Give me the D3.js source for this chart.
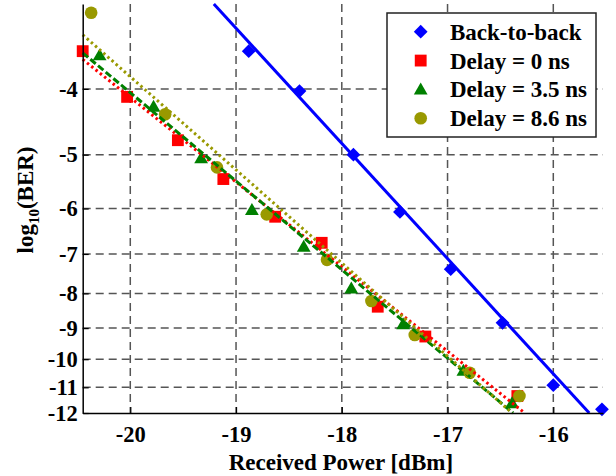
<!DOCTYPE html>
<html>
<head>
<meta charset="utf-8">
<script src="https://cdn.jsdelivr.net/npm/d3@7"></script>
<style>
  body { margin: 0; background: #fff; }
  text { font-family: "Liberation Serif", "Times New Roman", serif; font-weight: bold; }
</style>
</head>
<body>
<svg id="ber" width="616" height="476"></svg>
<script>
// BER curves, y axis is log10(BER) drawn on a log(-log) scale

// measured points: received power [dBm] and log10(BER)
let b2bPower = [-18.88, -18.40, -17.89, -17.45, -16.97, -16.48, -16.00, -15.54];
let b2bBer   = [-3.52, -4.03, -5.00, -6.07, -7.37, -8.84, -10.92, -11.85];

let d0Power = [-20.45, -20.03, -19.55, -19.12, -18.63, -18.19, -17.66, -17.21, -16.34];
let d0Ber   = [-3.52, -4.11, -4.76, -5.43, -6.17, -6.74, -8.37, -9.26, -11.33];

let d35Power = [-20.29, -19.78, -19.33, -18.85, -18.36, -17.91, -17.42, -16.85, -16.39];
let d35Ber   = [-3.57, -4.25, -5.06, -6.03, -6.83, -7.87, -8.88, -10.40, -11.61];

let d86Power = [-20.37, -19.67, -19.18, -18.71, -18.14, -17.72, -17.31, -16.79, -16.32];
let d86Ber   = [-3.09, -4.36, -5.22, -6.12, -7.14, -8.21, -9.21, -10.47, -11.33];

// fitted lines (end points in data units)
let b2bFitPower = [-19.21, -15.66];
let b2bFitBer   = [-3.0, -12];
let d0FitPower  = [-20.45, -16.27];
let d0FitBer    = [-3.62, -12];
let d35FitPower = [-20.45, -16.38];
let d35FitBer   = [-3.54, -12];
let d86FitPower = [-20.45, -16.39];
let d86FitBer   = [-3.33, -12];

let names = ["Back-to-back", "Delay = 0 ns", "Delay = 3.5 ns", "Delay = 8.6 ns"];
let xTicks = [-20, -19, -18, -17, -16];
let yTicks = [-4, -5, -6, -7, -8, -9, -10, -11, -12];

let series = [
    {name: names[0], px: b2bPower, py: b2bBer, fx: b2bFitPower, fy: b2bFitBer,
     color: "#0000ff", symbol: "diamond", dash: null},
    {name: names[1], px: d0Power, py: d0Ber, fx: d0FitPower, fy: d0FitBer,
     color: "#ff0000", symbol: "square", dash: "2.5,3"},
    {name: names[2], px: d35Power, py: d35Ber, fx: d35FitPower, fy: d35FitBer,
     color: "#008000", symbol: "triangle", dash: "7,3"},
    {name: names[3], px: d86Power, py: d86Ber, fx: d86FitPower, fy: d86FitBer,
     color: "#999900", symbol: "circle", dash: "2.5,3"}
];

let svg = d3.select("#ber");
let plotLeft = 82.7, plotRight = 603, plotTop = 4, plotBottom = 413;

let x = d3.scaleLinear().domain([-20.45, -15.53]).range([plotLeft, plotRight]);
// log scale on -log10(BER)
let yLog = d3.scaleLog().domain([3, 12]).range([plotTop, plotBottom]);
let y = (t) => yLog(-t);

// dashed grid
let grid = svg.append("g");
grid.selectAll("line.h")
    .data(yTicks.filter(d => d !== -12))
    .enter().append("line")
    .attr("class", "h")
    .attr("x1", plotLeft).attr("x2", plotRight)
    .attr("y1", d => y(d)).attr("y2", d => y(d));
grid.selectAll("line.v")
    .data(xTicks)
    .enter().append("line")
    .attr("class", "v")
    .attr("x1", d => x(d)).attr("x2", d => x(d))
    .attr("y1", plotTop).attr("y2", plotBottom);
grid.selectAll("line")
    .attr("stroke", "#555")
    .attr("stroke-width", 1.5)
    .attr("stroke-dasharray", "8,5");

// markers
function symbolPath(kind) {
    if (kind === "diamond") return d3.symbol(d3.symbolSquare, 95)();
    if (kind === "square") return d3.symbol(d3.symbolSquare, 140)();
    if (kind === "triangle") return d3.symbol(d3.symbolTriangle, 82)();
    return d3.symbol(d3.symbolCircle, 125)();
}
function symbolTransform(kind, cx, cy) {
    if (kind === "diamond") return `translate(${cx}, ${cy}) rotate(45)`;
    if (kind === "triangle") return `translate(${cx}, ${cy + 1})`;
    return `translate(${cx}, ${cy})`;
}

series.forEach((s) => {
    svg.append("g")
        .selectAll("path")
        .data(s.px.map((p, i) => [p, s.py[i]]))
        .enter().append("path")
        .attr("d", symbolPath(s.symbol))
        .attr("transform", (d) => symbolTransform(s.symbol, x(d[0]), y(d[1])))
        .attr("fill", s.color);
});

// fit lines on top
let line = d3.line().x(d => x(d[0])).y(d => y(d[1]));
series.forEach((s) => {
    svg.append("path")
        .datum(s.fx.map((p, i) => [p, s.fy[i]]))
        .attr("d", line)
        .attr("fill", "none")
        .attr("stroke", s.color)
        .attr("stroke-width", 3)
        .attr("stroke-dasharray", s.dash);
});

// axes
let xAxis = svg.append("g")
    .attr("transform", `translate(0, ${plotBottom})`)
    .call(d3.axisBottom(x).tickValues(xTicks).tickFormat(d => String(d))
        .tickSizeInner(-6).tickSizeOuter(0).tickPadding(13));
let yAxis = svg.append("g")
    .attr("transform", `translate(${plotLeft}, 0)`)
    .call(d3.axisLeft(yLog).tickValues(yTicks.map(d => -d)).tickFormat(d => "-" + d)
        .tickSizeInner(-6).tickSizeOuter(0).tickPadding(5));
[xAxis, yAxis].forEach((a) => {
    a.select(".domain").attr("stroke", "#000").attr("stroke-width", 1.5);
    a.selectAll(".tick line").attr("stroke", "#000").attr("stroke-width", 1.2);
    a.selectAll("text")
        .attr("font-size", 22.5)
        .attr("font-family", "Liberation Serif")
        .attr("font-weight", "bold")
        .attr("fill", "#000");
});

// axis titles
svg.append("text")
    .attr("x", (plotLeft + plotRight) / 2 - 2)
    .attr("y", 470)
    .attr("text-anchor", "middle")
    .attr("font-size", 23)
    .text("Received Power [dBm]");

let yl = svg.append("text")
    .attr("transform", `translate(33, 200) rotate(-90)`)
    .attr("text-anchor", "middle")
    .attr("font-size", 23);
yl.append("tspan").text("log");
yl.append("tspan").attr("font-size", 15).attr("dy", 6).text("10");
yl.append("tspan").attr("dy", -6).text("(BER)");

// legend
let lg = svg.append("g");
lg.append("rect")
    .attr("x", 387).attr("y", 13)
    .attr("width", 209).attr("height", 124)
    .attr("fill", "#fff")
    .attr("stroke", "#222")
    .attr("stroke-width", 1.5);
let legendY = d3.scalePoint().domain(names).range([31.7, 118.3]);
let rows = lg.selectAll("g.row")
    .data(series)
    .enter().append("g")
    .attr("class", "row");
rows.append("path")
    .attr("d", d => symbolPath(d.symbol))
    .attr("transform", d => symbolTransform(d.symbol, 420.7, legendY(d.name)))
    .attr("fill", d => d.color);
rows.append("text")
    .attr("x", 450)
    .attr("y", d => legendY(d.name) + 8)
    .attr("font-size", 23)
    .text(d => d.name);
</script>
</body>
</html>
